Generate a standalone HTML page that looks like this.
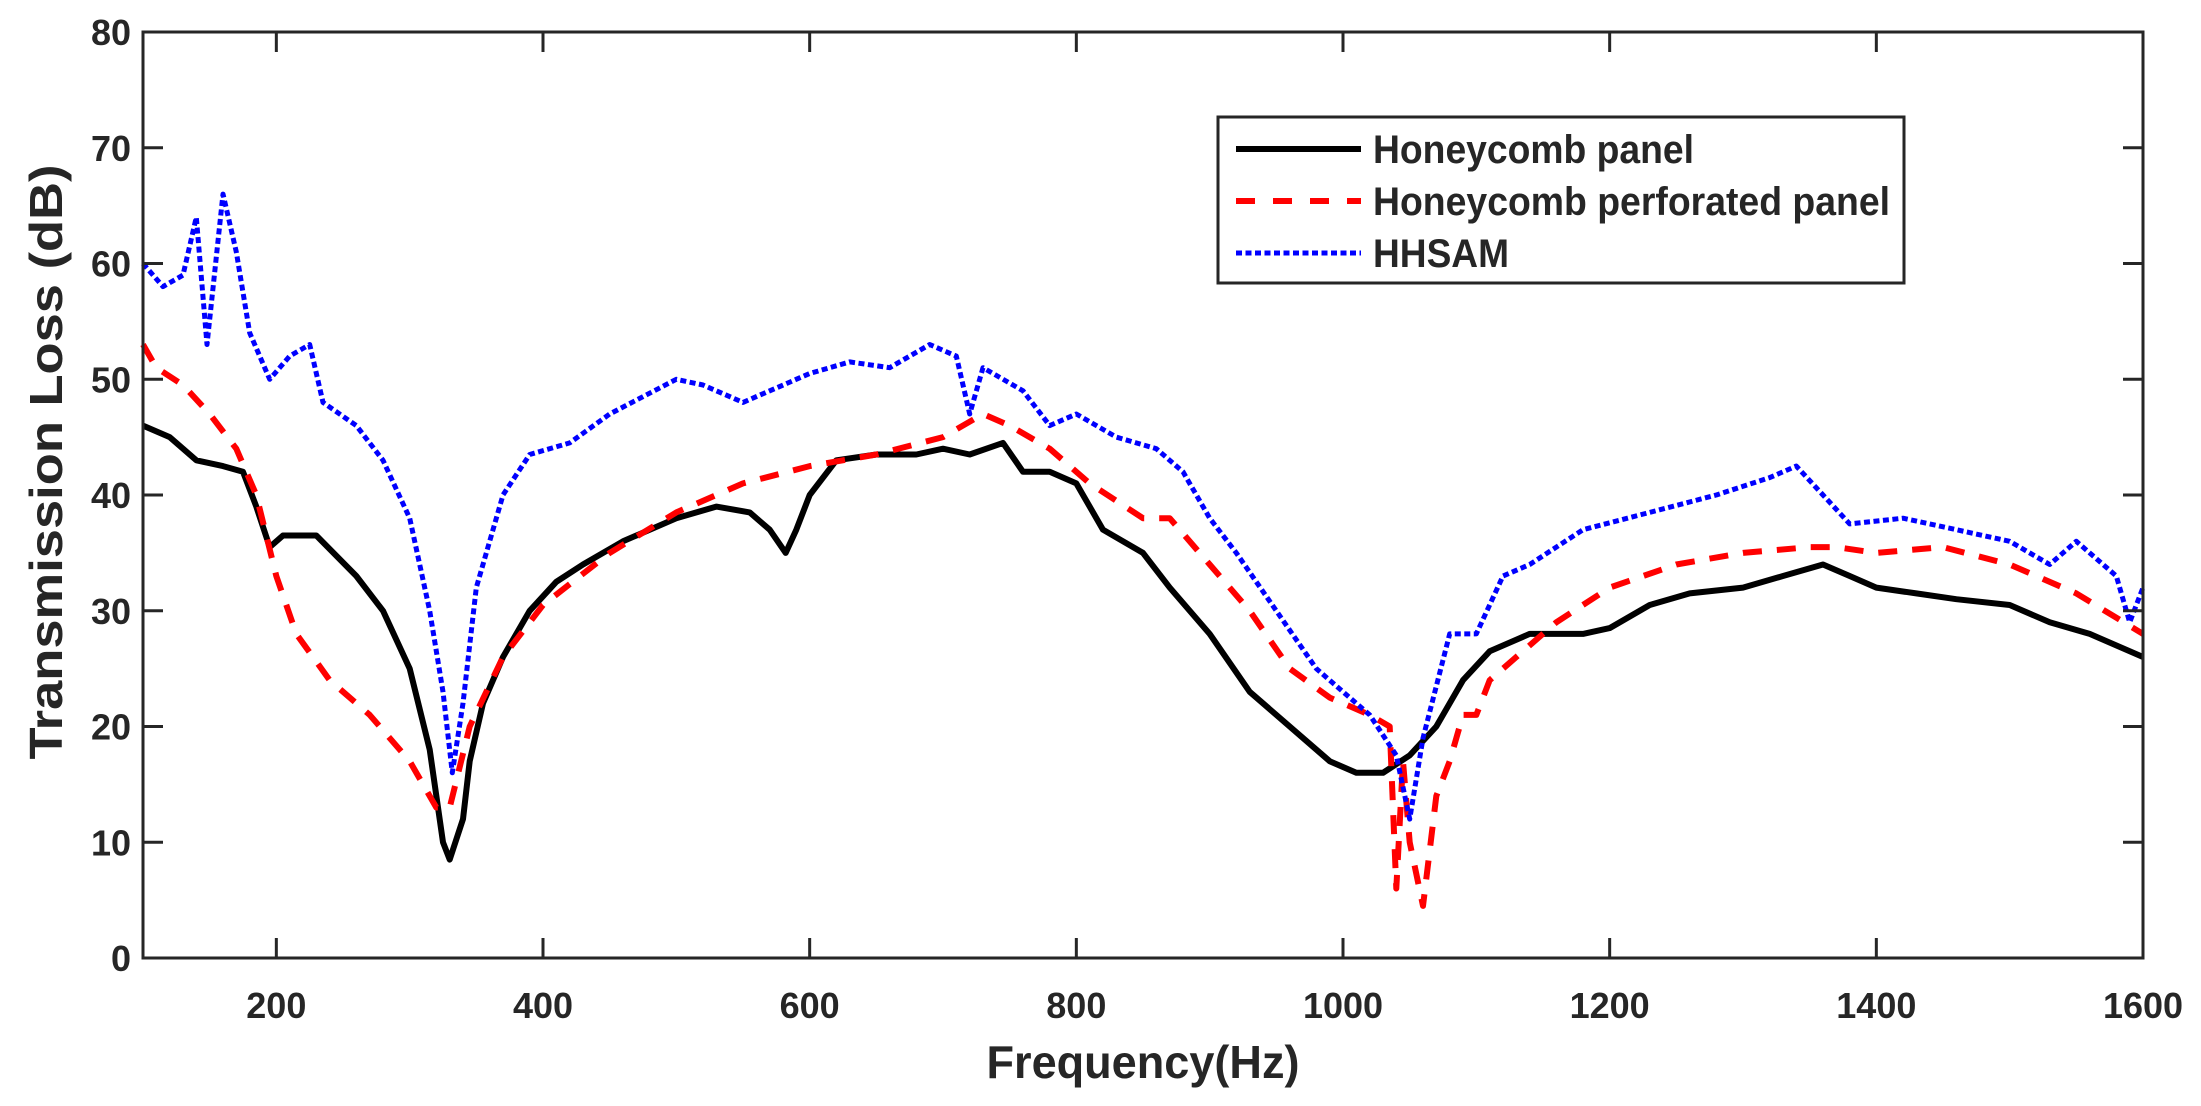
<!DOCTYPE html>
<html><head><meta charset="utf-8"><style>
html,body{margin:0;padding:0;background:#fff}
svg{display:block}
text{font-family:"Liberation Sans",Arial,sans-serif;font-weight:bold;fill:#262626}
</style></head><body>
<svg id="chart" width="2201" height="1106" viewBox="0 0 2201 1106" xmlns="http://www.w3.org/2000/svg">
<g id="series"></g>
<g id="axes"></g>
</svg>
<script>
const xTicks=[200,400,600,800,1000,1200,1400,1600];
const yTicks=[0,10,20,30,40,50,60,70,80];
const blackF=[100,120,140,160,175,185,195,205,230,260,280,300,315,325,330,340,345,355,370,390,410,430,460,500,530,555,570,582,590,600,620,650,680,700,720,745,760,780,800,820,850,870,900,930,960,990,1010,1030,1050,1070,1090,1110,1140,1180,1200,1230,1260,1300,1330,1360,1380,1400,1430,1460,1500,1530,1560,1600];
const blackV=[46,45,43,42.5,42,39,35.5,36.5,36.5,33,30,25,18,10,8.5,12,17,22,26,30,32.5,34,36,38,39,38.5,37,35,37,40,43,43.5,43.5,44,43.5,44.5,42,42,41,37,35,32,28,23,20,17,16,16,17.5,20,24,26.5,28,28,28.5,30.5,31.5,32,33,34,33,32,31.5,31,30.5,29,28,26];
const redF=[100,110,130,150,170,185,200,215,240,270,300,320,330,345,370,400,450,500,550,600,650,700,730,750,780,810,850,870,900,930,960,990,1020,1035,1040,1045,1050,1060,1070,1080,1090,1100,1110,1130,1160,1200,1250,1300,1350,1370,1400,1450,1500,1550,1600];
const redV=[53,51,49.5,47,44,40,33,28,24,21,17,13,13,20,26,30.5,35,38.5,41,42.5,43.5,45,47,46,44,41,38,38,34,30,25,22.5,21,20,6,17,10,4.5,14,17,21,21,24,26,29,32,34,35,35.5,35.5,35,35.5,34,31.5,28];
const blueF=[100,115,130,140,148,160,170,180,195,210,225,235,260,280,300,315,325,332,340,350,370,390,420,450,500,520,550,600,630,660,690,710,720,730,760,780,800,830,860,880,900,920,950,980,1000,1020,1040,1050,1060,1080,1100,1120,1140,1180,1230,1280,1320,1340,1360,1380,1420,1460,1500,1530,1550,1580,1590,1600];
const blueV=[60,58,59,64,53,66,61,54,50,52,53,48,46,43,38,30,23,16,22,32,40,43.5,44.5,47,50,49.5,48,50.5,51.5,51,53,52,47,51,49,46,47,45,44,42,38,35,30,25,23,21,17.5,12,19,28,28,33,34,37,38.5,40,41.5,42.5,40,37.5,38,37,36,34,36,33,29,32];

const L=143,R=2143,T=32,B=958;
const xs=f=>L+(f-100)/1500*(R-L);
const ys=v=>B-v/80*(B-T);
const NS='http://www.w3.org/2000/svg';
function mk(tag,attrs,parent){const e=document.createElementNS(NS,tag);for(const k in attrs)e.setAttribute(k,attrs[k]);parent.appendChild(e);return e;}
const axes=document.getElementById('axes'),series=document.getElementById('series');

function line(F,V,color,w,dash,name){
  const d=F.map((f,i)=>(i?'L':'M')+xs(f).toFixed(1)+' '+ys(V[i]).toFixed(1)).join(' ');
  const p=mk('path',{d:d,fill:'none',stroke:color,'stroke-width':w,'stroke-linejoin':'round'},series);
  if(dash)p.setAttribute('stroke-dasharray',dash);
  
  
}
line(blackF,blackV,'#000',6,null,'honeycomb-panel-line');
line(redF,redV,'#ff0000',6,'19 15','honeycomb-perforated-panel-line');
line(blueF,blueV,'#0000ff',5,'6 3.5','hhsam-line');

const box=mk('rect',{x:L,y:T,width:R-L,height:B-T,fill:'none',stroke:'#262626','stroke-width':3},axes);


xTicks.forEach(t=>{
  const x=xs(t);
  mk('line',{x1:x,x2:x,y1:B,y2:B-20,stroke:'#262626','stroke-width':3},axes);
  mk('line',{x1:x,x2:x,y1:T,y2:T+20,stroke:'#262626','stroke-width':3},axes);
  const tx=mk('text',{x:x,y:1018,'text-anchor':'middle','font-size':36},axes);
  tx.textContent=t;
  
  
});
yTicks.forEach(t=>{
  const y=ys(t);
  mk('line',{x1:L,x2:L+20,y1:y,y2:y,stroke:'#262626','stroke-width':3},axes);
  mk('line',{x1:R,x2:R-20,y1:y,y2:y,stroke:'#262626','stroke-width':3},axes);
  const tx=mk('text',{x:131,y:y+13,'text-anchor':'end','font-size':36},axes);
  tx.textContent=t;
  
  
});
const xt=mk('text',{x:1143,y:1078,'text-anchor':'middle','font-size':46,textLength:313,lengthAdjust:'spacingAndGlyphs'},axes);
xt.textContent='Frequency(Hz)';


const yt=mk('text',{x:0,y:0,'text-anchor':'middle','font-size':46,textLength:595,lengthAdjust:'spacingAndGlyphs',transform:'translate(62,462) rotate(-90)'},axes);
yt.textContent='Transmission Loss (dB)';



// legend
const lg=mk('g',{},axes);


mk('rect',{x:1218,y:117,width:686,height:166,fill:'#fff',stroke:'#262626','stroke-width':3},lg);
const entries=[['Honeycomb panel','#000',6,null,149,321],['Honeycomb perforated panel','#ff0000',6,'19 18',201,517],['HHSAM','#0000ff',5,'6 3.5',253,136]];
entries.forEach(e=>{
  const ln=mk('line',{x1:1236,x2:1361,y1:e[4],y2:e[4],stroke:e[1],'stroke-width':e[2]},lg);
  if(e[3])ln.setAttribute('stroke-dasharray',e[3]);
  const tx=mk('text',{x:1373,y:e[4]+14,'font-size':40,fill:'#000',textLength:e[5],lengthAdjust:'spacingAndGlyphs'},lg);
  tx.textContent=e[0];
  
  
});
</script>
</body></html>
